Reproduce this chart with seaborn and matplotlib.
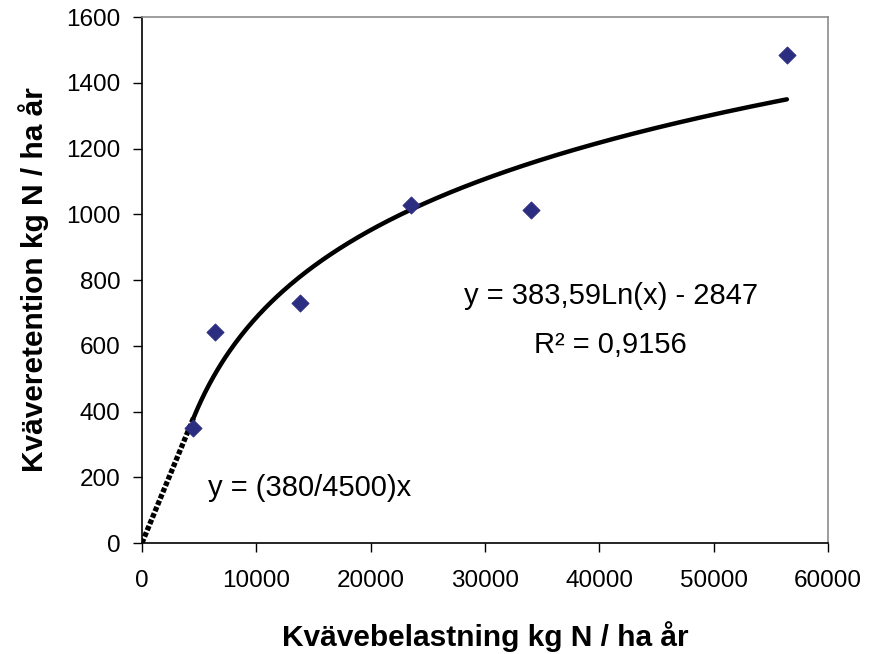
import numpy as np
import pandas as pd
import seaborn as sns
from matplotlib import pyplot as plt

# measured points (kg N / ha år)
belastning = [4470, 6400, 13850, 23550, 34050, 56400]
retention = [350, 643, 731, 1027, 1012, 1484]

# trendline coefficients as printed in the chart
log_a = 383.59
log_b = -2847
lin_slope = 380 / 4500
log_start, log_end = 4500, 56400

xticks = [0, 10000, 20000, 30000, 40000, 50000, 60000]
yticks = [0, 200, 400, 600, 800, 1000, 1200, 1400, 1600]

sns.set_theme(style="white")
plt.rcParams["font.family"] = ["Liberation Sans", "DejaVu Sans"]
plt.rcParams["text.color"] = "black"
plt.rcParams["axes.labelcolor"] = "black"

fig, ax = plt.subplots(figsize=(8.78, 6.54), dpi=100)
fig.subplots_adjust(left=0.1617, right=0.9431, bottom=0.1697, top=0.974)

pts = pd.DataFrame({"x": belastning, "y": retention})

xs = np.linspace(log_start, log_end, 300)
curve = pd.DataFrame({"x": xs, "y": log_a * np.log(xs) + log_b})
xl = np.array([0, log_start])
lin = pd.DataFrame({"x": xl, "y": lin_slope * xl})

sns.lineplot(data=curve, x="x", y="y", ax=ax, color="black", lw=3.2)
sns.lineplot(data=lin, x="x", y="y", ax=ax, color="black", lw=3.8,
             linestyle=(0, (0.9, 0.4)))
sns.scatterplot(data=pts, x="x", y="y", ax=ax, marker="D", s=75,
                color="#2b2d80", edgecolor="#2b2d80", zorder=5)

ax.set_xlim(0, 60000)
ax.set_ylim(0, 1600)
ax.set_xticks(xticks)
ax.set_yticks(yticks)
ax.tick_params(axis="both", which="both", direction="out", length=6.5,
               width=1, colors="black", labelsize=17.5, pad=9,
               bottom=True, left=True)
ax.tick_params(axis="x", pad=13)

for s in ["top", "right"]:
    ax.spines[s].set_color("#8c8c8c")
    ax.spines[s].set_linewidth(1.2)
for s in ["left", "bottom"]:
    ax.spines[s].set_color("black")
    ax.spines[s].set_linewidth(1.2)

ax.set_xlabel("Kvävebelastning kg N / ha år", fontsize=21.5, fontweight="bold",
              labelpad=21)
ax.set_ylabel("Kväveretention kg N / ha år", fontsize=21.5, fontweight="bold",
              labelpad=12)

ax.text(41000, 750, "y = 383,59Ln(x) - 2847", fontsize=21, ha="center",
        va="center")
ax.text(41000, 603, "R² = 0,9156", fontsize=21, ha="center", va="center")
ax.text(5800, 168, "y = (380/4500)x", fontsize=21, ha="left", va="center")

plt.savefig("out.png", dpi=100)
plt.close()
